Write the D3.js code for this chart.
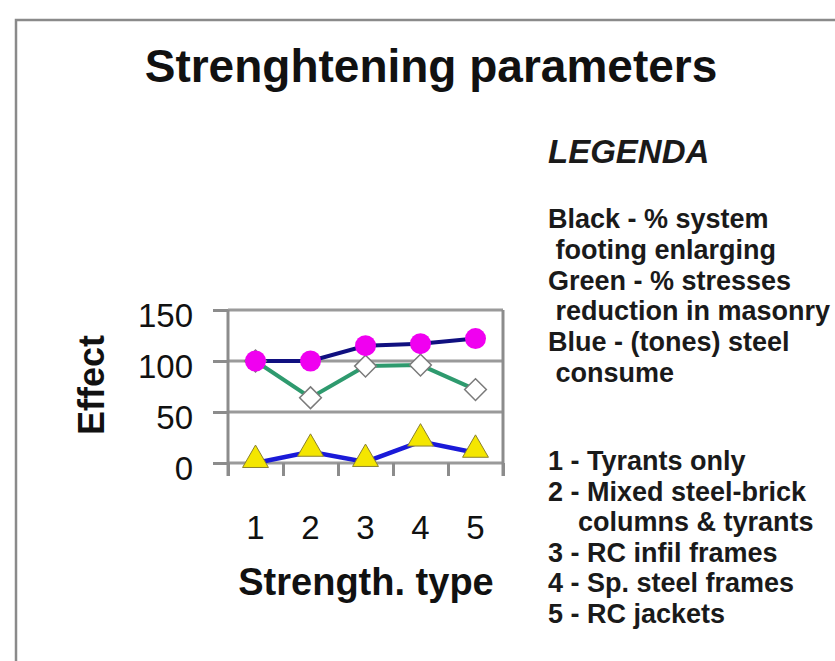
<!DOCTYPE html>
<html lang="en">
<head>
  <meta charset="UTF-8">
  <title>Strenghtening parameters</title>
  <script src="https://d3js.org/d3.v7.min.js"></script>
  <style>
    body { margin: 0; background: #fff; font-family: 'Liberation Sans', Arial, sans-serif; }
    svg { display: block; }
    .grid line { stroke: #9a9a9a; stroke-width: 3; }
    .axis path { display: none; }
    .axis line { stroke: #8c8c8c; stroke-width: 3; }
    .axis text { font-size: 33px; fill: #111; font-family: 'Liberation Sans', Arial, sans-serif; }
    .legend text { font-size: 27px; font-weight: bold; fill: #1a1a1a; }
  </style>
</head>
<body>
  <svg id="chart" width="835" height="661"></svg>
  <script>
    const categories = ["1", "2", "3", "4", "5"];
    const blackValues = [100, 100, 115, 117, 122];   // magenta dots, navy line
    const greenValues = [100, 64, 95, 96, 72];       // white diamonds
    const blueValues = [0, 11, 1, 21, 10];           // yellow triangles
    const yTicks = [0, 50, 100, 150];
    const legendTop = ["Black - % system", " footing enlarging", "Green - % stresses",
      " reduction in masonry", "Blue - (tones) steel", " consume"];
    const legendBottom = ["1 - Tyrants only", "2 - Mixed steel-brick", "    columns & tyrants",
      "3 - RC infil frames", "4 - Sp. steel frames", "5 - RC jackets"];

    const svg = d3.select("#chart");

    // outer frame (only top and left edges visible)
    svg.append("path")
      .attr("d", "M16,661 L16,20 L835,20")
      .attr("fill", "none").attr("stroke", "#8a8a8a").attr("stroke-width", 2.5);

    svg.append("text")
      .attr("x", 431).attr("y", 82)
      .attr("text-anchor", "middle")
      .style("font-size", "46px").style("font-weight", "bold").style("fill", "#111")
      .text("Strenghtening parameters");

    const x = d3.scaleBand().domain(categories).range([228, 503]);
    const y = d3.scaleLinear().domain([0, 150]).range([463, 310]);

    // grid
    svg.append("g").attr("class", "grid")
      .selectAll("line").data(yTicks).join("line")
      .attr("x1", 228).attr("x2", 503)
      .attr("y1", d => y(d)).attr("y2", d => y(d));

    // plot-area verticals
    svg.append("g").attr("class", "axis")
      .selectAll("line").data([228, 503]).join("line")
      .attr("x1", d => d).attr("x2", d => d)
      .attr("y1", y(150)).attr("y2", y(0) + 13);

    // x ticks at band boundaries
    const bounds = d3.scaleLinear().domain([0, categories.length]).range(x.range());
    svg.append("g").attr("class", "axis")
      .attr("transform", `translate(0,${y(0)})`)
      .call(d3.axisBottom(bounds).ticks(categories.length).tickSize(13).tickFormat(""));

    // x labels
    svg.append("g").attr("class", "axis")
      .attr("transform", `translate(0,${y(0) + 41})`)
      .call(d3.axisBottom(x).tickSize(0).tickPadding(35))
      .selectAll("text").attr("dy", 0);

    // y axis
    svg.append("g").attr("class", "axis")
      .attr("transform", "translate(228,0)")
      .call(d3.axisLeft(y).tickValues(yTicks).tickSize(15).tickPadding(20))
      .selectAll("text").attr("dy", "0.5em");

    svg.append("text")
      .attr("transform", `translate(104,385) rotate(-90)`)
      .attr("text-anchor", "middle")
      .style("font-size", "36px").style("font-weight", "bold").style("fill", "#111")
      .text("Effect");

    svg.append("text")
      .attr("x", 366).attr("y", 595)
      .attr("text-anchor", "middle")
      .style("font-size", "38px").style("font-weight", "bold").style("fill", "#111")
      .text("Strength. type");

    const cx = (d, i) => x(categories[i]) + x.bandwidth() / 2;
    const line = d3.line().x((d, i) => cx(d, i)).y(d => y(d));

    svg.append("path").datum(greenValues)
      .attr("d", line).attr("fill", "none").attr("stroke", "#2e9a6e").attr("stroke-width", 4);
    svg.append("path").datum(blackValues)
      .attr("d", line).attr("fill", "none").attr("stroke", "#101080").attr("stroke-width", 4);
    svg.append("path").datum(blueValues)
      .attr("d", line).attr("fill", "none").attr("stroke", "#1a1ad8").attr("stroke-width", 4.5);

    // markers
    svg.append("g").selectAll("path").data(greenValues).join("path")
      .attr("transform", (d, i) => `translate(${cx(d, i)},${y(d)})`)
      .attr("d", d3.symbol(d3.symbolDiamond2, 300)())
      .attr("fill", "#fff").attr("stroke", "#7a7a7a").attr("stroke-width", 1.5);

    svg.append("g").selectAll("circle").data(blackValues).join("circle")
      .attr("cx", cx).attr("cy", d => y(d)).attr("r", 10.5)
      .attr("fill", "#f000f0");

    svg.append("g").selectAll("path").data(blueValues).join("path")
      .attr("transform", (d, i) => `translate(${cx(d, i)},${y(d) - 3})`)
      .attr("d", d3.symbol(d3.symbolTriangle, 290)())
      .attr("fill", "#f4e600").attr("stroke", "#8a8030").attr("stroke-width", 1);

    // legend
    const lg = svg.append("g").attr("class", "legend").attr("transform", "translate(548,0)");
    lg.append("text").attr("y", 163)
      .style("font-size", "33px").style("font-style", "italic")
      .text("LEGENDA");
    lg.selectAll(".top").data(legendTop).join("text").attr("class", "top")
      .attr("y", (d, i) => 228 + i * 30.8)
      .style("white-space", "pre")
      .text(d => d);
    lg.selectAll(".bot").data(legendBottom).join("text").attr("class", "bot")
      .attr("y", (d, i) => 470 + i * 30.6)
      .style("white-space", "pre")
      .text(d => d);
  </script>
</body>
</html>
